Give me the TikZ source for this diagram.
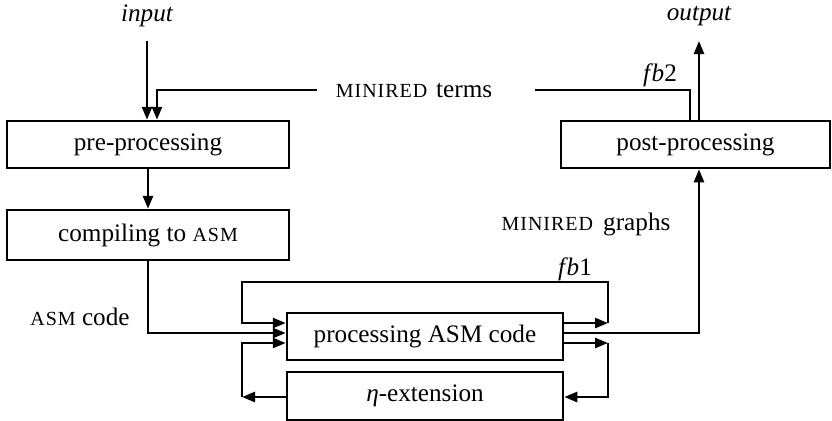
\documentclass[tikz,border=0pt]{standalone}
\usepackage{fontspec}
\setmainfont{Liberation Serif}
\usetikzlibrary{arrows.meta,calc}
\newcommand{\fsc}[1]{{\fontsize{10}{11}\selectfont\addfontfeature{LetterSpace=5}#1}}
\begin{document}
\begin{tikzpicture}[x=0.5pt,y=-0.5pt,line width=1.25pt,
  font=\fontsize{12.6}{15}\selectfont,
  box/.style={draw,inner sep=0pt,minimum height=23.5pt},
  arr/.style={-{Triangle[length=6.5pt,width=5pt]}},
  lbl/.style={inner sep=1pt}]
\useasboundingbox (0,0) rectangle (832,420);
% boxes
\node[box,minimum width=141pt] (pre) at (148,144.5) {pre-processing};
\node[box,minimum width=141pt,minimum height=25pt] (comp) at (148,235) {compiling to \fsc{ASM}};
\node[box,minimum width=134.5pt] (post) at (695.5,144.5) {post-processing};
\node[box,minimum width=138pt] (proc) at (425,336.5) {processing ASM code};
\node[box,minimum width=138pt,minimum height=24pt] (eta) at (425,396) {\textit{η}-extension};
% labels
\node[lbl] (in) at (147,16) {\itshape input};
\node[lbl] (out) at (699,16) {\itshape output};
\node[lbl] (terms) at (414,91) {\fsc{MINIRED}\hspace{0.35em}terms};
\node[lbl] (graphs) at (586,224) {\fsc{MINIRED}\hspace{0.15em} graphs};
\node[lbl] (asm) at (80,317) {\fsc{ASM} code};
\node[lbl] (fbone) at (575,269) {\textit{f\kern0.8pt b}1};
\node[lbl] (fbtwo) at (660,75) {\textit{f\kern0.8pt b}2};
% helper coordinates
\coordinate (inTop) at (147,41);
\coordinate (outTip) at (699,41);
\coordinate (fbx) at (690,0);
\coordinate (tA) at (535,90);
\coordinate (tB) at (317,90);
\coordinate (fbin) at (157,0);
\coordinate (y323) at (0,323);
\coordinate (y333) at (0,333);
\coordinate (y343) at (0,343);
\coordinate (R) at (608,0);
\coordinate (L) at (242,0);
\coordinate (T) at (0,282);
\coordinate (B) at (0,397);
% connectors
\draw[arr] (inTop) -- (inTop |- pre.north);
\draw[arr] (outTip |- post.north) -- (outTip);
\draw (fbx |- post.north) |- (tA);
\draw[arr] (tB) -| (fbin |- pre.north);
\draw[arr] (pre.south) -- (comp.north);
\draw[arr] (comp.south) |- (proc.west |- y333);
\draw[arr] (proc.east |- y333) -| (outTip |- post.south);
\draw[arr] (proc.east |- y323) -- (R |- y323);
\draw[arr] (R |- y323) -- (R |- T) -- (L |- T) -- (L |- y323) -- (proc.west |- y323);
\draw[arr] (proc.east |- y343) -- (R |- y343);
\draw[arr] (R |- y343) -- (R |- B) -- (eta.east |- B);
\draw[arr] (eta.west |- B) -- (L |- B);
\draw[arr] (L |- B) -- (L |- y343) -- (proc.west |- y343);
\end{tikzpicture}
\end{document}
